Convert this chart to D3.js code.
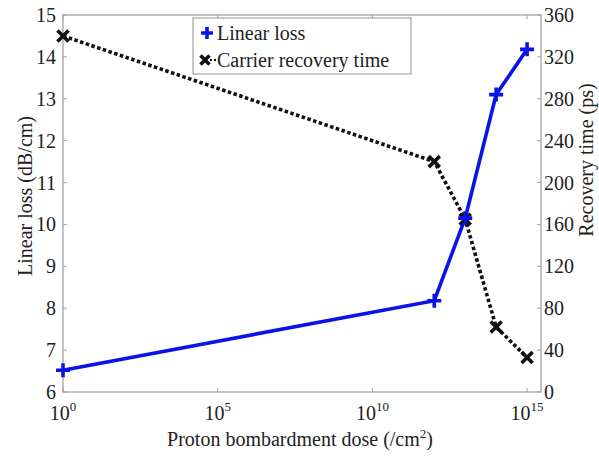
<!DOCTYPE html>
<html><head><meta charset="utf-8">
<script src="https://cdn.jsdelivr.net/npm/d3@7"></script>
<style>body{margin:0;background:#fff}svg{display:block}text{font-family:"Liberation Serif","Times New Roman",serif;fill:#222}</style>
</head><body>
<svg id="c" width="599" height="456"></svg>
<script>
const doses = [1, 1e12, 1e13, 1e14, 1e15];
const linearLoss = [6.52, 8.18, 10.15, 13.1, 14.18];
const recoveryTime = [340, 220, 165, 62, 33];
const xTickExps = [0, 5, 10, 15];
const leftTicks = [6,7,8,9,10,11,12,13,14,15];
const rightTicks = [0,40,80,120,160,200,240,280,320,360];

const L = 63, R = 541, T = 15, B = 392;
const svg = d3.select("#c");
const x = d3.scaleLog().domain([1, Math.pow(10, 15.45)]).range([L, R]);
const yL = d3.scaleLinear().domain([6, 15]).range([B, T]);
const yR = d3.scaleLinear().domain([0, 360]).range([B, T]);
const axCol = "#a3a3a3";

// frame
svg.append("rect").attr("x", L).attr("y", T).attr("width", R - L).attr("height", B - T)
  .attr("fill", "none").attr("stroke", axCol).attr("stroke-width", 1.3);

// x ticks
const xt = svg.append("g");
xTickExps.forEach(e => {
  const px = x(Math.pow(10, e));
  xt.append("line").attr("x1", px).attr("x2", px).attr("y1", B).attr("y2", B - 4).attr("stroke", axCol);
  xt.append("line").attr("x1", px).attr("x2", px).attr("y1", T).attr("y2", T + 4).attr("stroke", axCol);
  const t = xt.append("text").attr("x", px).attr("y", 420).attr("text-anchor", "middle").attr("font-size", 20);
  t.append("tspan").text("10");
  t.append("tspan").attr("dy", -9).attr("font-size", 13).text(e);
});

// left ticks
leftTicks.forEach(v => {
  const py = yL(v);
  svg.append("line").attr("x1", L).attr("x2", L + 4).attr("y1", py).attr("y2", py).attr("stroke", axCol);
  svg.append("text").attr("x", L - 7).attr("y", py + 7).attr("text-anchor", "end").attr("font-size", 20).text(v);
});
// right ticks
rightTicks.forEach(v => {
  const py = yR(v);
  svg.append("line").attr("x1", R).attr("x2", R - 4).attr("y1", py).attr("y2", py).attr("stroke", axCol);
  svg.append("text").attr("x", R + 3).attr("y", py + 7).attr("text-anchor", "start").attr("font-size", 20).text(v);
});

// axis titles
const xtTitle = svg.append("text").attr("x", 300).attr("y", 446).attr("text-anchor", "middle").attr("font-size", 20);
xtTitle.append("tspan").text("Proton bombardment dose (/cm");
xtTitle.append("tspan").attr("dy", -8).attr("font-size", 13).text("2");
xtTitle.append("tspan").attr("dy", 8).text(")");
svg.append("text").attr("transform", "translate(32,196) rotate(-90)").attr("text-anchor", "middle").attr("font-size", 20).text("Linear loss (dB/cm)");
svg.append("text").attr("transform", "translate(593,160) rotate(-90)").attr("text-anchor", "middle").attr("font-size", 20).text("Recovery time (ps)");

// series
const blue = "#0a14e6";
const lineL = d3.line().x((d, i) => x(doses[i])).y(d => yL(d));
const lineR = d3.line().x((d, i) => x(doses[i])).y(d => yR(d));
svg.append("path").attr("d", lineR(recoveryTime)).attr("fill", "none").attr("stroke", "#111")
  .attr("stroke-width", 3.6).attr("stroke-dasharray", "3.5,2.5");
svg.append("path").attr("d", lineL(linearLoss)).attr("fill", "none").attr("stroke", blue).attr("stroke-width", 3.6);

function plus(g, cx, cy, s, col) {
  g.append("path").attr("d", `M${cx - s},${cy}H${cx + s}M${cx},${cy - s}V${cy + s}`).attr("stroke", col).attr("stroke-width", 3.6).attr("fill", "none");
}
function cross(g, cx, cy, s, col) {
  g.append("path").attr("d", `M${cx - s},${cy - s}L${cx + s},${cy + s}M${cx - s},${cy + s}L${cx + s},${cy - s}`).attr("stroke", col).attr("stroke-width", 3.6).attr("fill", "none");
}
recoveryTime.forEach((v, i) => cross(svg, x(doses[i]), yR(v), 5.5, "#111"));
linearLoss.forEach((v, i) => plus(svg, x(doses[i]), yL(v), 7, blue));

// legend
const lg = svg.append("g");
lg.append("rect").attr("x", 193).attr("y", 18).attr("width", 218).attr("height", 56).attr("fill", "#fff").attr("stroke", axCol).attr("stroke-width", 1.2);
plus(lg, 207, 33, 6, blue);
cross(lg, 205, 60, 4.5, "#111");
lg.append("line").attr("x1", 210).attr("x2", 216).attr("y1", 60).attr("y2", 60).attr("stroke", "#111").attr("stroke-width", 2).attr("stroke-dasharray", "2,2");
lg.append("text").attr("x", 217).attr("y", 40).attr("font-size", 20).text("Linear loss");
lg.append("text").attr("x", 217).attr("y", 67).attr("font-size", 20).text("Carrier recovery time");
</script>
</body></html>
